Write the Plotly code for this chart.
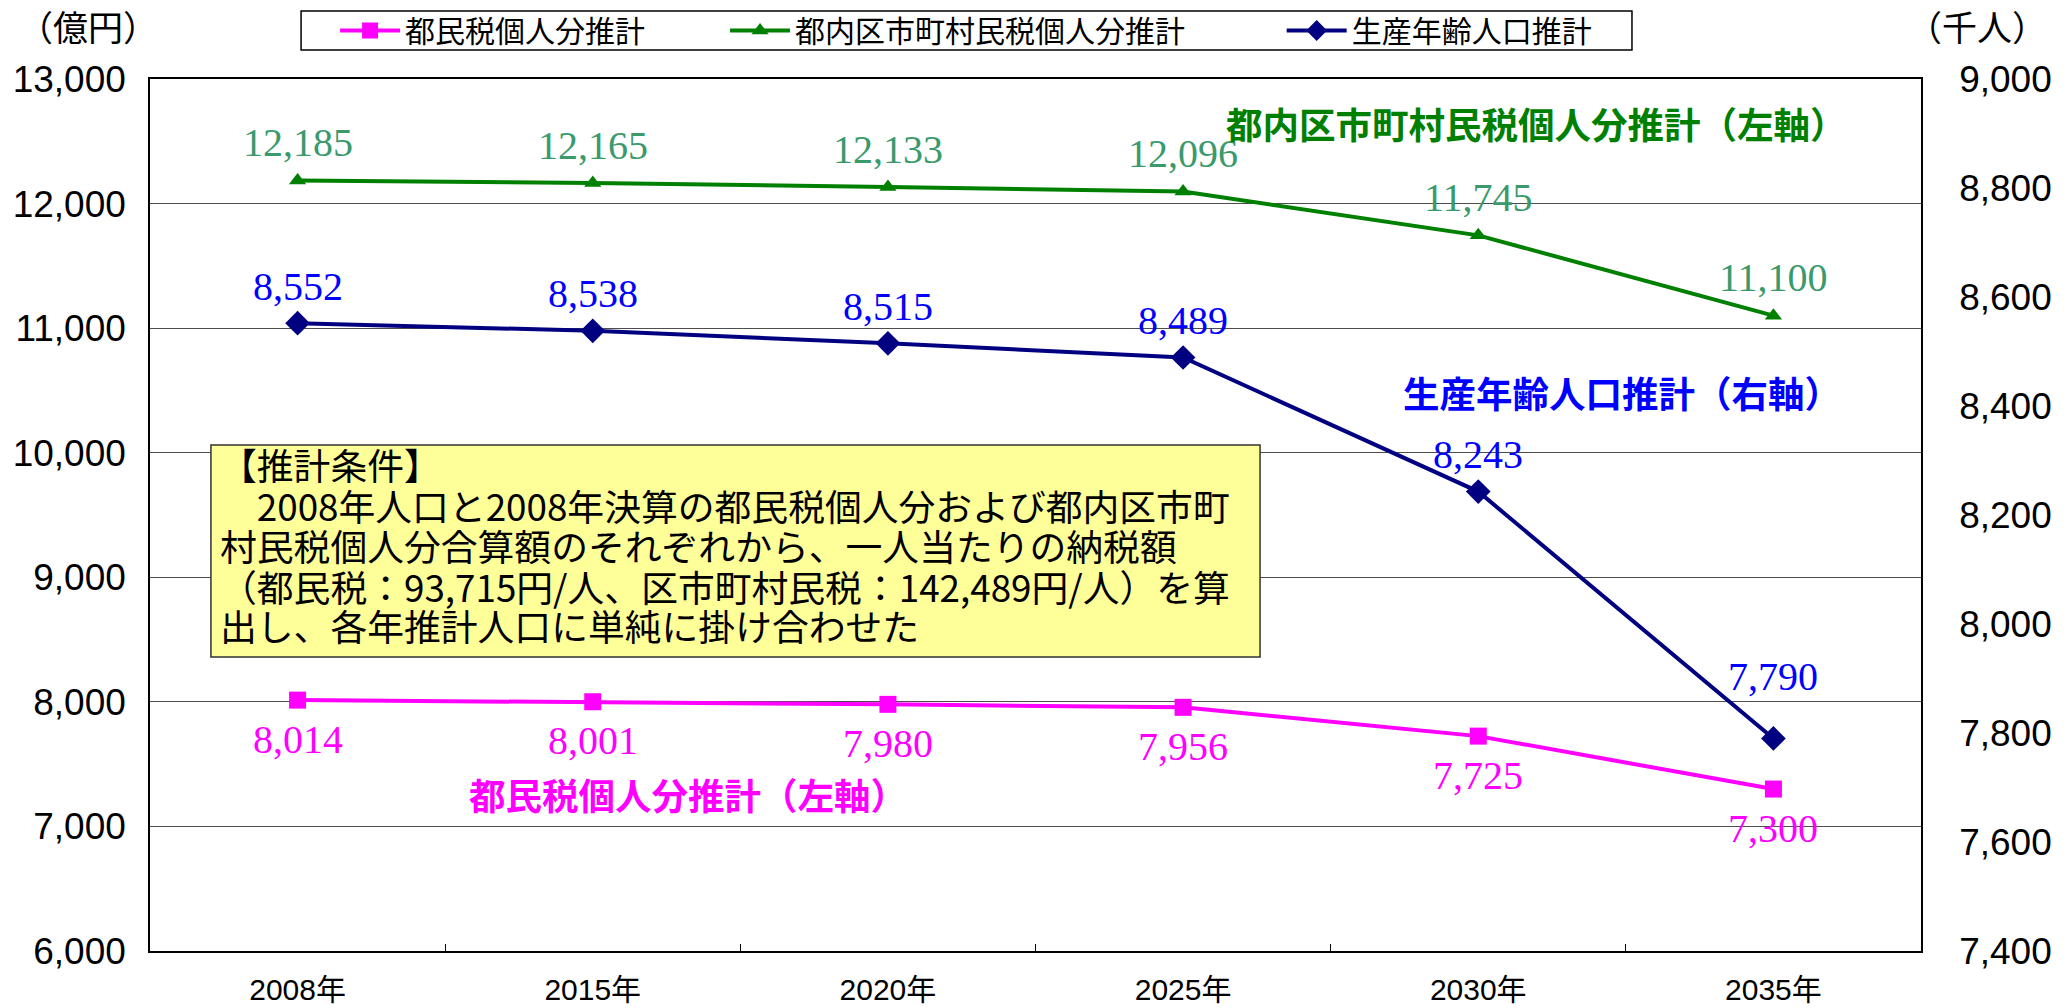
import plotly.graph_objects as go

# ---- data ----
years = ["2008年", "2015年", "2020年", "2025年", "2030年", "2035年"]
tomin_tax = [8014, 8001, 7980, 7956, 7725, 7300]            # 都民税個人分推計 (億円, left axis)
kushichoson_tax = [12185, 12165, 12133, 12096, 11745, 11100]  # 都内区市町村民税個人分推計 (億円, left axis)
working_pop = [8552, 8538, 8515, 8489, 8243, 7790]          # 生産年齢人口推計 (千人, right axis)

name_tomin = "都民税個人分推計"
name_ku = "都内区市町村民税個人分推計"
name_pop = "生産年齢人口推計"

note_lines = [
    "【推計条件】",
    "　2008年人口と2008年決算の都民税個人分および都内区市町",
    "村民税個人分合算額のそれぞれから、一人当たりの納税額",
    "（都民税：93,715円/人、区市町村民税：142,489円/人）を算",
    "出し、各年推計人口に単純に掛け合わせた",
]

# ---- styling ----
JP = "Noto Sans CJK JP"
SANS = "Liberation Sans, " + JP
SERIF = "Liberation Serif, DejaVu Serif, serif"

C_PINK = "#FF00FF"
C_GREEN = "#008000"
C_GREEN_LBL = "#3A9A6C"
C_NAVY = "#000080"
C_BLUE = "#0000FF"

fig = go.Figure()

fig.add_trace(go.Scatter(
    x=years, y=tomin_tax, name=name_tomin, mode="lines+markers",
    line=dict(color=C_PINK, width=4),
    marker=dict(symbol="square", size=17, color=C_PINK),
    yaxis="y", legend="legend",
))
fig.add_trace(go.Scatter(
    x=years, y=kushichoson_tax, name=name_ku, mode="lines+markers",
    line=dict(color=C_GREEN, width=4),
    marker=dict(symbol="triangle-up", size=15, color=C_GREEN),
    yaxis="y", legend="legend2",
))
fig.add_trace(go.Scatter(
    x=years, y=working_pop, name=name_pop, mode="lines+markers",
    line=dict(color=C_NAVY, width=4),
    marker=dict(symbol="diamond", size=19, color=C_NAVY),
    yaxis="y2", legend="legend3",
))

annotations = []

# value labels, placed relative to each point
pop_label_shift = [37, 37, 37, 37, 37, 62]
LBL = 40
for xv, v in zip(years, kushichoson_tax):
    annotations.append(dict(x=xv, y=v, xref="x", yref="y", text=f"{v:,}",
                            showarrow=False, yshift=38,
                            font=dict(family=SERIF, size=LBL, color=C_GREEN_LBL)))
for xv, v, s in zip(years, working_pop, pop_label_shift):
    annotations.append(dict(x=xv, y=v, xref="x", yref="y2", text=f"{v:,}",
                            showarrow=False, yshift=s,
                            font=dict(family=SERIF, size=LBL, color=C_BLUE)))
for xv, v in zip(years, tomin_tax):
    annotations.append(dict(x=xv, y=v, xref="x", yref="y", text=f"{v:,}",
                            showarrow=False, yshift=-39,
                            font=dict(family=SERIF, size=LBL, color=C_PINK)))


def caption(x, y, text, size, color):
    return dict(x=x, y=y, xref="paper", yref="paper", xanchor="center", yanchor="middle",
                showarrow=False, text=text, font=dict(family=JP, size=size, color=color))


# series captions
annotations += [
    caption(0.783, 0.9495, f"<b>{name_ku}（左軸）</b>", 36.5, C_GREEN),
    caption(0.831, 0.641, f"<b>{name_pop}（右軸）</b>", 36.5, C_BLUE),
    caption(0.304, 0.180, f"<b>{name_tomin}（左軸）</b>", 36.5, C_PINK),
]

# axis unit captions
annotations += [
    caption(-0.035, 1.061, "（億円）", 35, "#000000"),
    caption(1.0316, 1.061, "（千人）", 35, "#000000"),
]

# estimation conditions: one annotation per line inside a filled box
note_y = [0.5585, 0.5115, 0.4656, 0.4186, 0.3739]
for line, yy in zip(note_lines, note_y):
    annotations.append(dict(
        x=0.0384, y=yy, xref="paper", yref="paper", xanchor="left", yanchor="middle",
        showarrow=False, align="left", text=line,
        font=dict(family=JP, size=36.8, color="#000000"),
    ))

shapes = [
    # conditions box
    dict(type="rect", xref="paper", yref="paper", x0=0.0344, x1=0.6268, y0=0.3372, y1=0.5803,
         fillcolor="#FFFF99", line=dict(color="#333333", width=1.5), layer="above"),
    # frame around the three legend groups
    dict(type="rect", xref="paper", yref="paper", x0=0.0853, x1=0.8368, y0=1.0333, y1=1.078,
         fillcolor="#FFFFFF", line=dict(color="#000000", width=1.5), layer="below"),
]

legend_common = dict(
    orientation="h", yanchor="middle", y=1.0556, xanchor="left",
    font=dict(family=JP, size=30, color="#000000"),
    borderwidth=0, bgcolor="rgba(0,0,0,0)", itemwidth=60,
)

fig.update_layout(
    width=2069, height=1008,
    margin=dict(l=150, r=148, t=79, b=57, autoexpand=False),
    plot_bgcolor="#FFFFFF", paper_bgcolor="#FFFFFF",
    showlegend=True,
    legend=dict(legend_common, x=0.1045),
    legend2=dict(legend_common, x=0.3247),
    legend3=dict(legend_common, x=0.639),
    xaxis=dict(
        type="category", range=[-0.5, 5.5], automargin=False,
        showline=True, linecolor="#000000", linewidth=1.5, mirror=True,
        ticks="inside", tickson="boundaries", ticklen=7, tickcolor="#000000",
        ticklabelstandoff=11,
        tickfont=dict(family=SANS, size=30, color="#000000"),
        showgrid=False, zeroline=False,
    ),
    yaxis=dict(
        range=[6000, 13000], dtick=1000, tickformat=",", automargin=False,
        showline=True, linecolor="#000000", linewidth=1.5,
        showgrid=True, gridcolor="#4d4d4d", gridwidth=1,
        ticks="", ticklabelstandoff=15,
        tickfont=dict(family=SANS, size=37, color="#000000"),
        zeroline=False,
    ),
    yaxis2=dict(
        range=[7400, 9000], dtick=200, tickformat=",", automargin=False,
        overlaying="y", side="right",
        showline=True, linecolor="#000000", linewidth=1.5,
        showgrid=False, ticks="", ticklabelstandoff=29,
        tickfont=dict(family=SANS, size=37, color="#000000"),
        zeroline=False,
    ),
    annotations=annotations,
    shapes=shapes,
)

fig.write_html("out.html")
